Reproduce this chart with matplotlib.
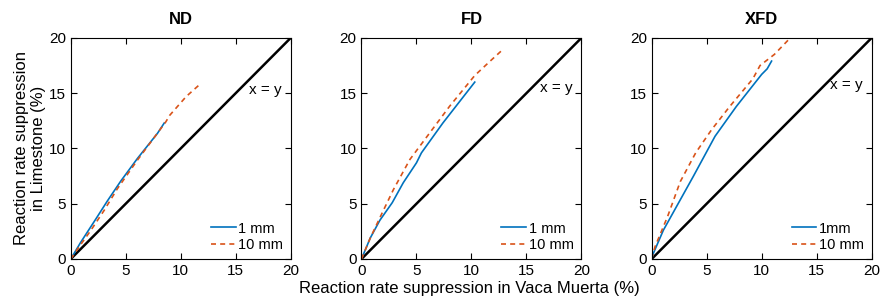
import numpy as np
import matplotlib
matplotlib.use("Agg")
import matplotlib.pyplot as plt

plt.rcParams['font.family'] = ['Liberation Sans', 'DejaVu Sans']

BLUE = '#0072BD'
ORANGE = '#D95319'

titles = ["ND", "FD", "XFD"]
legend_1mm = ["1 mm", "1 mm", "1mm"]

# ND
nd_1mm_x = [0, 0.9, 2.27, 3.33, 4.55, 6.06, 7.88, 8.5]
nd_1mm_y = [0, 1.5, 3.6, 5.25, 7.05, 9.09, 11.36, 12.3]
nd_10mm_x = [0, 0.9, 1.82, 3.03, 4.24, 6.06, 8.64, 9.0, 10.5, 11.74]
nd_10mm_y = [0, 1.3, 2.58, 4.39, 6.36, 8.94, 12.4, 13.0, 14.7, 15.8]

# FD
fd_1mm_x = [0, 0.8, 1.67, 2.8, 3.8, 5.0, 5.45, 7.4, 10.3]
fd_1mm_y = [0, 1.9, 3.5, 5.1, 6.9, 8.7, 9.6, 12.3, 16.0]
fd_10mm_x = [0, 0.8, 1.8, 2.9, 4.4, 5.45, 8.0, 10.3, 11.7, 12.8]
fd_10mm_y = [0, 1.9, 4.0, 6.27, 9.0, 10.4, 13.8, 16.6, 17.9, 18.9]

# XFD
xfd_1mm_x = [0, 0.15, 1.06, 3.8, 5.76, 7.7, 10.0, 10.5, 10.9]
xfd_1mm_y = [0, 0.5, 2.6, 7.5, 11.1, 13.8, 16.7, 17.2, 17.9]
xfd_10mm_x = [0, 0.3, 1.45, 2.6, 4.0, 5.45, 7.1, 9.2, 9.85, 11.15, 12.7]
xfd_10mm_y = [0, 1.1, 3.85, 7.0, 9.6, 11.7, 13.8, 16.3, 17.5, 18.5, 20.1]

series = [
    (nd_1mm_x, nd_1mm_y, nd_10mm_x, nd_10mm_y),
    (fd_1mm_x, fd_1mm_y, fd_10mm_x, fd_10mm_y),
    (xfd_1mm_x, xfd_1mm_y, xfd_10mm_x, xfd_10mm_y),
]
xy_label_y = [15.3, 15.5, 15.7]
ticks = [0, 5, 10, 15, 20]

fig = plt.figure(figsize=(8.81, 2.96), dpi=100)
lefts = [0.0803, 0.4103, 0.7397]

for i, left in enumerate(lefts):
    ax = fig.add_axes([left, 0.125, 0.2497, 0.747])
    x1, y1, x10, y10 = series[i]
    ax.plot([0, 20], [0, 20], color='black', lw=1.8)
    l1, = ax.plot(x1, y1, color=BLUE, lw=1.2, label=legend_1mm[i])
    l2, = ax.plot(x10, y10, color=ORANGE, lw=1.2, ls='--', dashes=(3, 2.5), label='10 mm')
    ax.text(19.2, xy_label_y[i], "x = y", ha='right', va='center', fontsize=11)
    ax.set_xlim(0, 20)
    ax.set_ylim(0, 20)
    ax.set_xticks(ticks)
    ax.set_yticks(ticks)
    ax.tick_params(direction='in', top=True, right=True, labelsize=11, length=4)
    ax.set_title(titles[i], fontsize=12, fontweight='bold', pad=10)
    ax.legend(handles=[l1, l2], loc='lower right', frameon=False, fontsize=10.5,
              handlelength=1.7, handletextpad=0.2, labelspacing=0.15, borderaxespad=0.1)
    if i == 0:
        ax.set_ylabel("Reaction rate suppression\nin Limestone (%)", fontsize=12, labelpad=2)

fig.text(0.533, 0.0, "Reaction rate suppression in Vaca Muerta (%)", ha='center', va='bottom', fontsize=12)

fig.savefig("out.png", dpi=100)
